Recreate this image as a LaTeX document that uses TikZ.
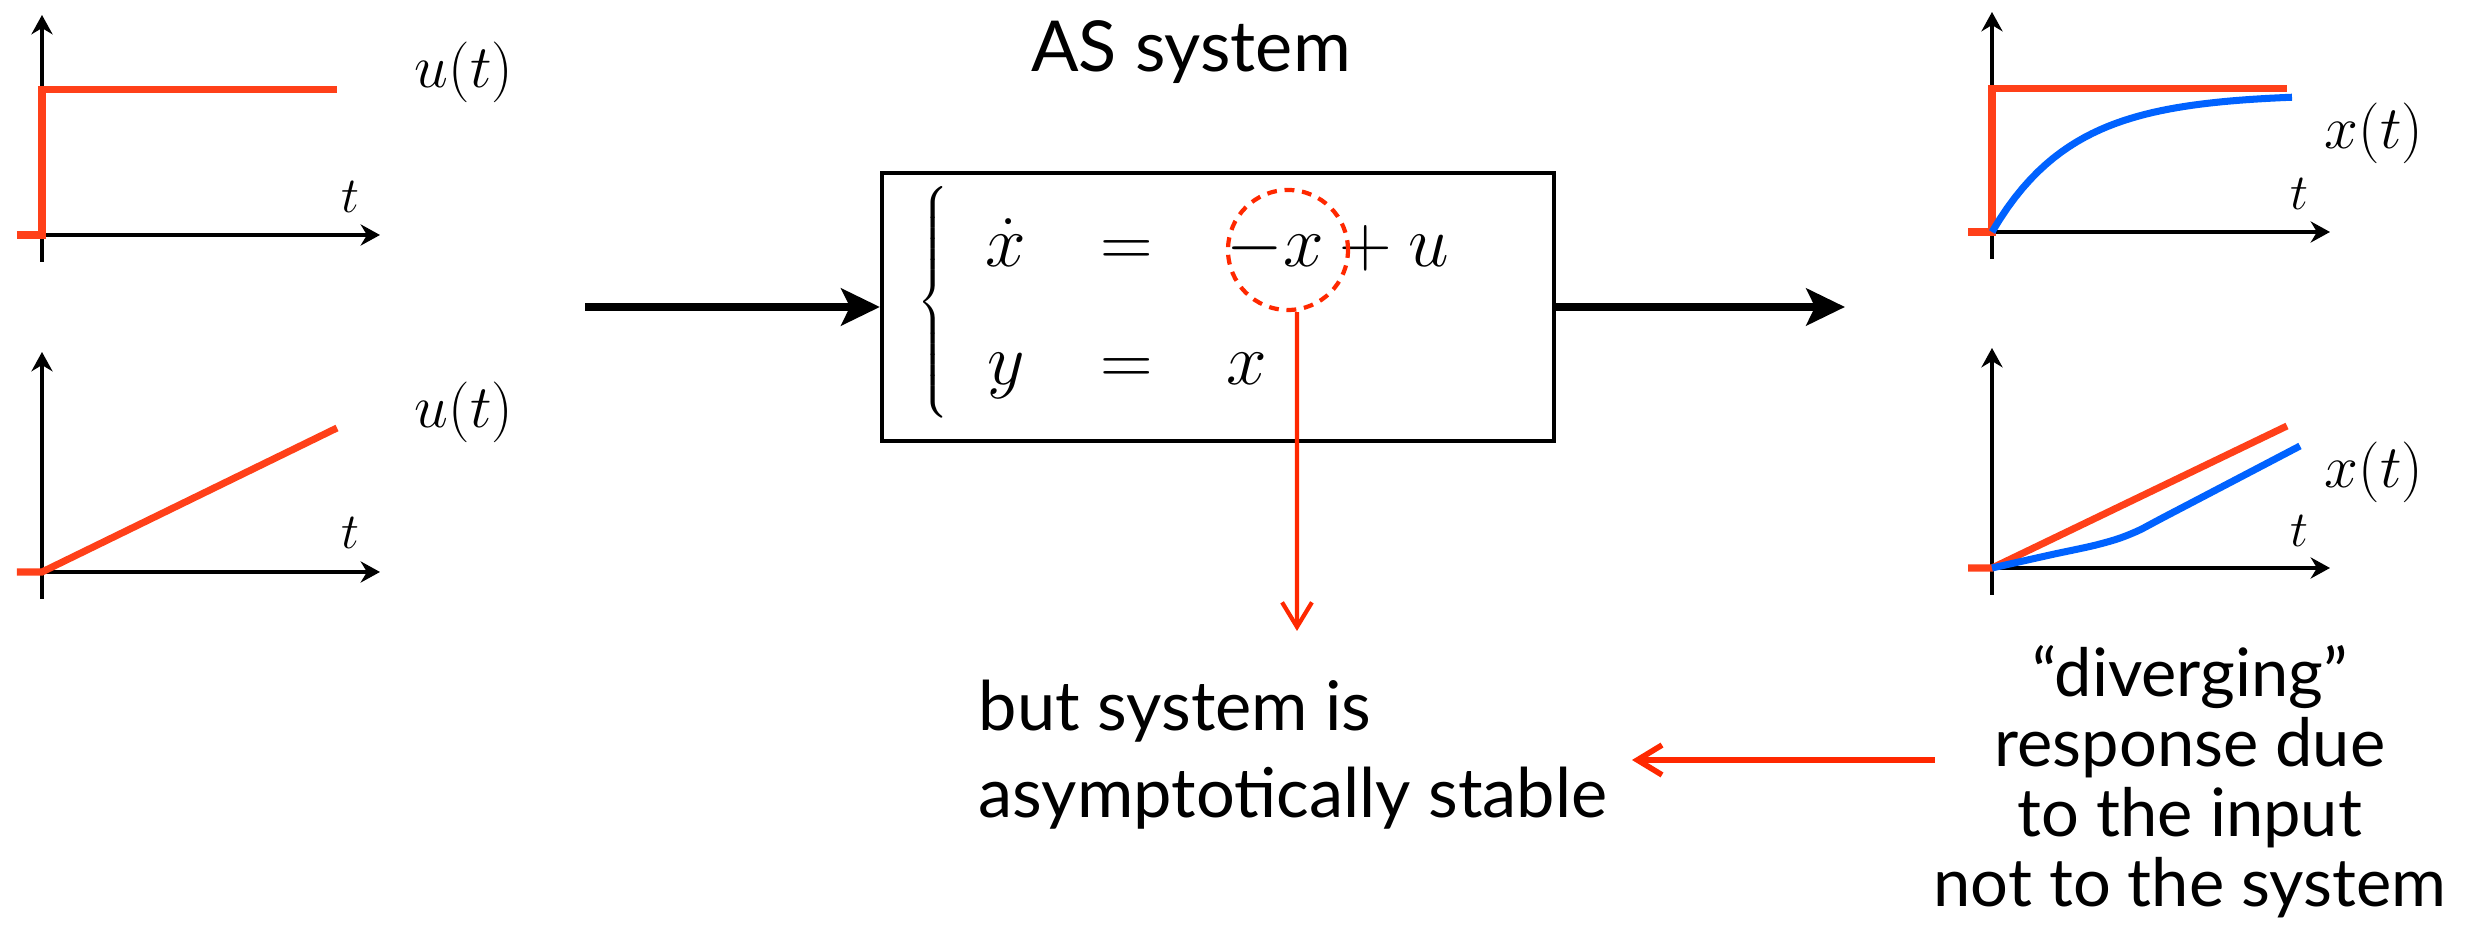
\documentclass[tikz,border=0pt]{standalone}
\usepackage{fontspec}
\usetikzlibrary{arrows.meta, positioning, calc}
\newfontfamily\slidefont{Lato}
\definecolor{sigred}{RGB}{255,64,25}
\definecolor{sigblue}{RGB}{0,98,255}
\definecolor{notered}{RGB}{255,40,0}

\begin{document}
\begin{tikzpicture}[
    axis/.style={-{Stealth[length=5.5pt, width=6pt]}, line width=1.1pt},
    signal/.style={line width=2pt, sigred},
    response/.style={line width=2pt, sigblue},
    flow/.style={-{Stealth[length=11pt, width=10.5pt, inset=2.5pt]}, line width=2.2pt},
    sysbox/.style={draw, line width=1.2pt, minimum width=6.72cm, minimum height=2.68cm},
    notearrow/.style={-{Straight Barb[length=7pt, width=8.5pt]}, notered},
    mathlabel/.style={font=\fontsize{17.28}{20}\selectfont, inner sep=0pt},
    tlabel/.style={font=\fontsize{14.4}{17}\selectfont, inner sep=0pt},
    slidetext/.style={font=\slidefont\fontsize{20}{24.2}\selectfont, inner sep=0pt},
]
\useasboundingbox (0,0) rectangle (24.84,9.5);

% ===================== AXES =====================
\foreach \ox/\oy in {0.42/7.15, 0.42/3.78, 19.92/7.18, 19.92/3.82} {
    \draw[axis] (\ox,\oy-0.27) -- (\ox,\oy+2.2);
    \draw[axis] (\ox,\oy) -- (\ox+3.38,\oy);
}

% ===================== LEFT: INPUTS =====================
\draw[signal] (0.17,7.15) -- (0.42,7.15) -- (0.42,8.60) -- (3.37,8.60);
\draw[signal] (0.17,3.78) -- (0.42,3.78) -- (3.37,5.22);

\node[tlabel] (tstep) at (3.50,7.53) {$t$};
\node[tlabel] (tramp) at (3.50,4.17) {$t$};
\node[mathlabel] (ustep) at (4.64,8.78) {$u(t)$};
\node[mathlabel] (uramp) at (4.64,5.38) {$u(t)$};

% ===================== CENTER: SYSTEM =====================
\node[slidetext, anchor=base] (title) at (11.91,8.78) {AS system};

\node[sysbox] (sys) at (12.18,6.43) {};
\node[inner sep=0pt, anchor=west, font=\fontsize{20.74}{24}\selectfont] (eq) at (9.17,6.48)
    {\setlength{\arraycolsep}{10.5pt}\renewcommand{\arraystretch}{1.4}%
     $\left\{\begin{array}{ccl}
        \dot{x} & = & -x+u\\
        y & = & x
     \end{array}\right.$};

\coordinate (uin) at (5.85,6.43);
\coordinate (xout) at (18.45,6.43);
\draw[flow] (uin) -- (sys.west);
\draw[flow] (sys.east) -- (xout);

% Highlight the pole term
\node[draw, circle, dashed, notered, line width=1.2pt, dash pattern=on 2.8pt off 2.2pt,
      minimum size=1.2cm, inner sep=0pt] (focus) at (12.88,7.00) {};
\coordinate (tipdown) at (12.97,3.19);
\draw[notearrow, line width=1.2pt] ([xshift=0.9mm]focus.south) -- (tipdown);

\node[slidetext, font=\slidefont\fontsize{19.5}{25}\selectfont, align=left, anchor=base west] (stable) at (9.78,1.32)
    {but system is\\asymptotically stable};

% ===================== RIGHT: RESPONSES =====================
\draw[signal] (19.68,7.18) -- (19.92,7.18) -- (19.92,8.61) -- (22.87,8.61);
\draw[response] plot[domain=0:3.0, samples=40] ({19.92+\x}, {7.18+1.38*(1-exp(-\x/0.8))});

\draw[signal] (19.68,3.82) -- (19.92,3.82) -- (22.87,5.24);
\draw[response] plot[smooth, tension=0.6] coordinates
    {(19.92,3.82) (20.50,3.95) (21.00,4.06) (21.33,4.17) (21.70,4.36) (23.00,5.04)};

\node[tlabel] (tfirst) at (22.99,7.56) {$t$};
\node[tlabel] (tsecond) at (22.99,4.19) {$t$};
\node[mathlabel] (xstep) at (23.74,8.17) {$x(t)$};
\node[mathlabel] (xramp) at (23.74,4.78) {$x(t)$};

\node[slidetext, font=\slidefont\fontsize{19}{20}\selectfont, align=center, anchor=base] (diverge) at (21.90,0.43)
    {“diverging”\\response due\\to the input\\not to the system};

\coordinate (notefrom) at (19.35,1.90);
\coordinate (noteto) at (16.32,1.90);
\draw[notearrow, line width=1.6pt] (notefrom) -- (noteto);

\end{tikzpicture}
\end{document}
